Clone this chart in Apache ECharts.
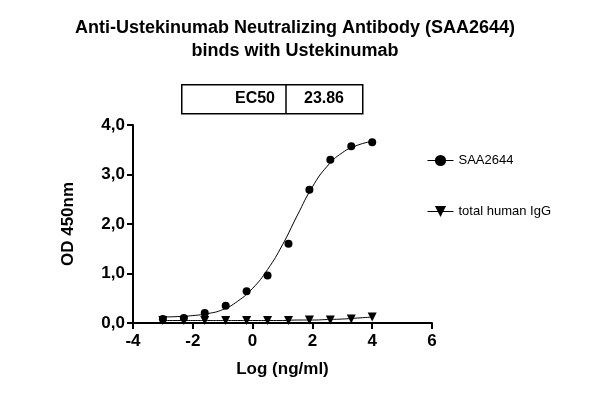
<!DOCTYPE html><html><head><meta charset="utf-8"><script src="https://cdn.jsdelivr.net/npm/echarts@6/dist/echarts.min.js"></script></head><body style="margin:0"><div id="c" style="width:590px;height:405px"></div><script>
const logX=[-3.0,-2.3,-1.6,-0.9,-0.2,0.5,1.2,1.9,2.6,3.3,4.0];
const saa=[0.08,0.10,0.20,0.35,0.64,0.96,1.60,2.69,3.30,3.57,3.65];
const igg=[0.05,0.05,0.05,0.05,0.05,0.05,0.05,0.06,0.06,0.08,0.12];
const fitX=[-3,-2.5,-2,-1.5,-1,-0.5,0,0.5,1,1.5,2,2.5,3,3.5,4];
const fitSaa=[0.12,0.13,0.15,0.19,0.27,0.44,0.70,1.08,1.58,2.18,2.75,3.17,3.44,3.59,3.67];
const fitIgg=[0.05,0.05,0.05,0.05,0.05,0.05,0.05,0.05,0.05,0.06,0.06,0.07,0.08,0.10,0.12];
const xTicks=[-4,-2,0,2,4,6];
const ec50='23.86';
const pair=(a,b)=>a.map((v,i)=>[v,b[i]]);
const ch=echarts.init(document.getElementById('c'));
const F='Liberation Sans, Arial, sans-serif';
const lbl={fontFamily:F,fontSize:17,fontWeight:'bold',color:'#000'};
ch.setOption({
 animation:false,
 title:{text:'Anti-Ustekinumab Neutralizing Antibody (SAA2644)\nbinds with Ustekinumab',left:'center',top:12,textStyle:{fontFamily:F,fontSize:18,fontWeight:'bold',color:'#000',lineHeight:23}},
 grid:{left:133,right:158,top:125,bottom:82},
 xAxis:{type:'value',min:-4,max:6,interval:2,name:'Log (ng/ml)',nameLocation:'middle',nameGap:38,nameTextStyle:lbl,
  axisLine:{onZero:false,lineStyle:{color:'#000',width:2}},axisTick:{lineStyle:{color:'#000',width:2},length:6},splitLine:{show:false},
  axisLabel:Object.assign({margin:10},lbl)},
 yAxis:{type:'value',min:0,max:4,interval:1,name:'OD 450nm',nameLocation:'middle',nameGap:56,nameTextStyle:lbl,
  axisLine:{show:true,onZero:false,lineStyle:{color:'#000',width:2}},axisTick:{show:true,lineStyle:{color:'#000',width:2},length:6},splitLine:{show:false},
  axisLabel:Object.assign({formatter:v=>v.toFixed(1).replace('.',',')},lbl)},
 legend:{orient:'vertical',left:422,top:149,itemGap:38,itemWidth:26,textStyle:{fontFamily:F,fontSize:13,color:'#000'},
  data:[{name:'SAA2644',lineStyle:{opacity:1,width:1,color:'#000'}},{name:'total human IgG',lineStyle:{opacity:1,width:1,color:'#000'}}]},
 series:[
  {name:'SAA2644',type:'line',data:pair(logX,saa),lineStyle:{opacity:0,color:'#000'},symbol:'circle',symbolSize:8,itemStyle:{color:'#000'},z:3},
  {name:'total human IgG',type:'line',data:pair(logX,igg),lineStyle:{opacity:0,color:'#000'},symbol:'triangle',symbolRotate:180,symbolSize:9,itemStyle:{color:'#000'},z:3},
  {type:'line',data:pair(fitX,fitSaa),smooth:true,symbol:'none',lineStyle:{color:'#000',width:1}},
  {type:'line',data:pair(fitX,fitIgg),smooth:true,symbol:'none',lineStyle:{color:'#000',width:1}}
 ],
 graphic:[
  {type:'rect',left:181,top:84,shape:{width:181,height:29},style:{fill:'#fff',stroke:'#000',lineWidth:1.5}},
  {type:'line',shape:{x1:286,y1:84,x2:286,y2:113},style:{stroke:'#000',lineWidth:1.5}},
  {type:'text',x:255,y:99,style:{text:'EC50',fontFamily:F,fontSize:16,fontWeight:'bold',fill:'#000',align:'center',verticalAlign:'middle'}},
  {type:'text',x:324,y:99,style:{text:ec50,fontFamily:F,fontSize:16,fontWeight:'bold',fill:'#000',align:'center',verticalAlign:'middle'}}
 ]
});
</script></body></html>
